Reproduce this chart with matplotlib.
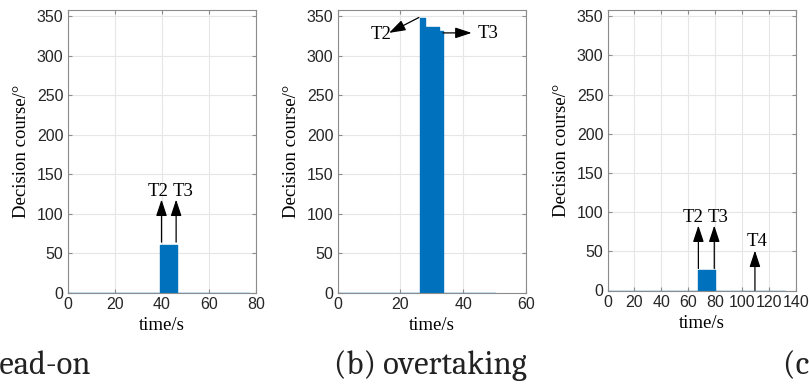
import matplotlib.pyplot as plt

# decision course (step values) for each encounter
t_a = [0, 39.3, 46.6, 77]
c_a = [0, 60, 0, 0]

t_b = [0, 26.2, 27.9, 32.4, 33.5, 50]
c_b = [0, 348, 336, 331, 0, 0]

t_c = [0, 66.9, 79.8, 132]
c_c = [0, 26, 0, 0]

xmax = [80, 60, 140]
captions = ["(a) head-on", "(b) overtaking", "(c) crossing"]

BLUE = '#0072BD'
SERIF = ['Liberation Serif', 'TeX Gyre Termes', 'DejaVu Serif']
W, H = 809, 385

fig = plt.figure(figsize=(W / 100, H / 100), dpi=100)

lefts = [67.5, 337.5, 607.5]
bottoms = [292.7, 292.7, 290.5]


def make_ax(i):
    left = lefts[i]
    bot = bottoms[i]
    ax = fig.add_axes([left / W, (H - bot) / H, 188.5 / W, (bot - 10) / H])
    ax.set_xlim(0, xmax[i])
    ax.set_ylim(0, 358)
    ax.set_yticks(range(0, 351, 50))
    ax.set_xticks(range(0, xmax[i] + 1, 20))
    ax.grid(True, color='#e6e6e6', lw=0.8)
    ax.set_axisbelow(True)
    for s in ax.spines.values():
        s.set_color('#8c8c8c')
        s.set_linewidth(0.8)
    ax.tick_params(direction='in', length=3, color='#8c8c8c', top=True, right=True,
                   labelsize=11.5, labelcolor='#262626', pad=3)
    for lab in ax.get_xticklabels() + ax.get_yticklabels():
        lab.set_fontfamily('Liberation Sans')
    ax.set_xlabel('time/s', fontfamily=SERIF, fontsize=13.5, labelpad=4)
    ax.set_ylabel('Decision course/°', fontfamily=SERIF, fontsize=13.5, labelpad=5)
    return ax


def draw(ax, t, c):
    ax.fill_between(t, c, step='post', color=BLUE, lw=0)
    ax.step(t, c, where='post', color=BLUE, lw=1)


ARROW = dict(arrowstyle='-|>,head_length=1.0,head_width=0.33',
             color='black', lw=0.9, shrinkA=0, shrinkB=0)


def arrow(ax, x0, y0, x1, y1):
    ax.annotate('', xy=(x1, y1), xytext=(x0, y0), arrowprops=ARROW)


txt = dict(fontfamily=SERIF, fontsize=13.5, color='black')

# (a)
ax1 = make_ax(0)
draw(ax1, t_a, c_a)
arrow(ax1, 39.9, 64, 39.9, 118)
arrow(ax1, 46.1, 64, 46.1, 118)
ax1.text(38.4, 122, 'T2', ha='center', va='baseline', **txt)
ax1.text(49.0, 122, 'T3', ha='center', va='baseline', **txt)

# (b)
ax2 = make_ax(1)
draw(ax2, t_b, c_b)
arrow(ax2, 25.9, 348.5, 16.4, 329)
ax2.text(17.3, 327, 'T2', ha='right', va='center', **txt)
arrow(ax2, 33.6, 329, 42.7, 329)
ax2.text(44.6, 328, 'T3', ha='left', va='center', **txt)

# (c)
ax3 = make_ax(2)
draw(ax3, t_c, c_c)
arrow(ax3, 67.5, 28, 67.5, 83)
arrow(ax3, 79.3, 28, 79.3, 83)
arrow(ax3, 109.5, 0, 109.5, 51)
ax3.text(63.8, 88, 'T2', ha='center', va='baseline', **txt)
ax3.text(82.0, 88, 'T3', ha='center', va='baseline', **txt)
ax3.text(111.4, 57, 'T4', ha='center', va='baseline', **txt)

# sub-figure captions (cut by the figure edges like the source crop)
cap = dict(fontfamily=['Caladea', 'DejaVu Serif'], fontsize=23.5, color='#222222', va='baseline')
fig.text(91 / W, 1 - 374 / H, captions[0], ha='right', **cap)
fig.text(430 / W, 1 - 374 / H, captions[1], ha='center', **cap)
fig.text(783 / W, 1 - 374 / H, captions[2], ha='left', **cap)

fig.savefig('out.png', dpi=100)
